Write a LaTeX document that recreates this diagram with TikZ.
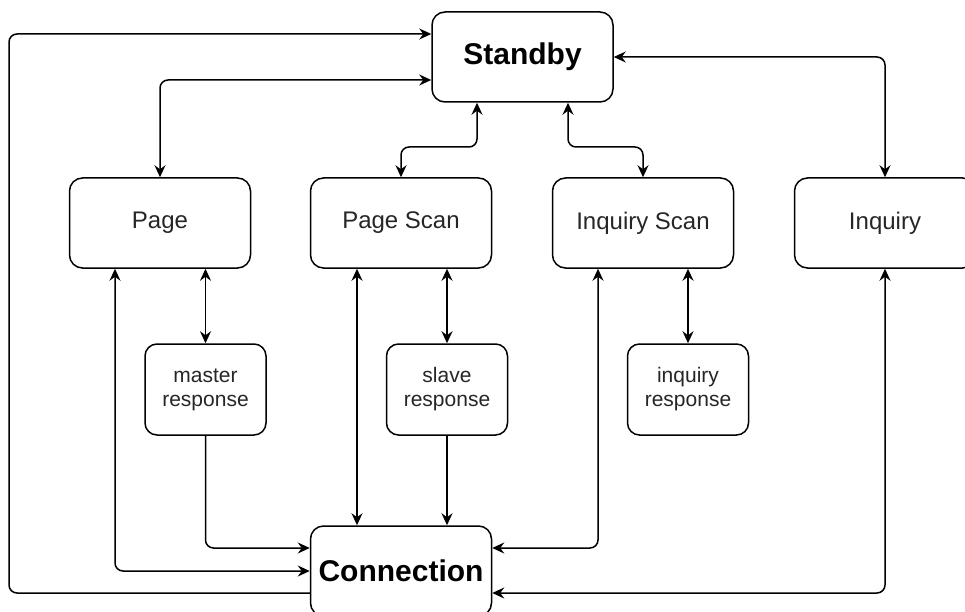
\documentclass[tikz,border=0pt]{standalone}
\usepackage{fontspec}
\setmainfont{Liberation Sans}
\usepackage{tikz}
\usetikzlibrary{arrows.meta, calc}

\begin{document}
\begin{tikzpicture}[
		x=1pt, y=-1pt,
		bigstate/.style={rectangle,	draw=black,	fill=white,	line width=1.5pt,	rounded corners=13pt,	minimum width=181pt,	minimum height=90pt,	font=\fontsize{30}{34}\selectfont\bfseries},
		state/.style   ={rectangle,	draw=black,	fill=white,	line width=1.5pt,	rounded corners=13pt,	minimum width=181pt,	minimum height=90pt,	text=black!85,	font=\fontsize{24}{28}\selectfont},
		resp/.style    ={rectangle,	draw=black,	fill=white,	line width=1.5pt,	rounded corners=12pt,	minimum width=121pt,	minimum height=91pt,	align=center,	text=black!85,	font=\fontsize{21}{24}\selectfont},
		arr/.style     ={line width=1.5pt,	rounded corners=8pt,	-{Stealth[length=12pt,width=11pt,inset=4pt]}},
		biarr/.style   ={line width=1.5pt,	rounded corners=8pt,	{Stealth[length=12pt,width=11pt,inset=4pt]}-{Stealth[length=12pt,width=11pt,inset=4pt]}},
	]

	\newcommand{\ytop}{57}
	\newcommand{\ymid}{223}
	\newcommand{\yresp}{389.5}
	\newcommand{\ybot}{571}

	\useasboundingbox (0,0) rectangle (965,612);

	% nodes
	\node [bigstate] (standby) at (522.5,\ytop) {Standby};

	\foreach \x/\name/\txt in {160/page/Page, 401/pscan/Page Scan, 643/iscan/Inquiry Scan, 885/inq/Inquiry}
		\node [state] (\name) at (\x,\ymid) {\txt};

	\foreach \x/\name/\txt in {205.5/mresp/master, 447/sresp/slave, 688/iresp/inquiry}
		\node [resp] (\name) at (\x,\yresp) {\txt\\response};

	\node [bigstate] (conn) at (401,\ybot) {Connection};

	% interconnections
	\draw [arr] (conn.west |- 0,593) -| (9,34) -- (standby.west |- 0,34);
	\draw [biarr] (page.north) |- (standby.west |- 0,80);
	\draw [biarr] (standby.south -| 477,0) -- (477,147) -| (pscan.north);
	\draw [biarr] (standby.south -| 568,0) -- (568,147) -| (iscan.north);
	\draw [biarr] (standby.east) -| (inq.north);

	\draw [biarr] (page.south -| 115,0) |- (conn.west);
	\draw [biarr] (page.south -| mresp.north) -- (mresp.north);
	\draw [arr] (mresp.south) |- (conn.west |- 0,548);

	\draw [biarr] (pscan.south -| 357,0) -- (conn.north -| 357,0);
	\draw [biarr] (pscan.south -| sresp.north) -- (sresp.north);
	\draw [arr] (sresp.south) -- (conn.north -| sresp.south);

	\draw [biarr] (iscan.south -| 598,0) |- (conn.east |- 0,548);
	\draw [biarr] (iscan.south -| iresp.north) -- (iresp.north);

	\draw [biarr] (inq.south) |- (conn.east |- 0,593);

\end{tikzpicture}
\end{document}
